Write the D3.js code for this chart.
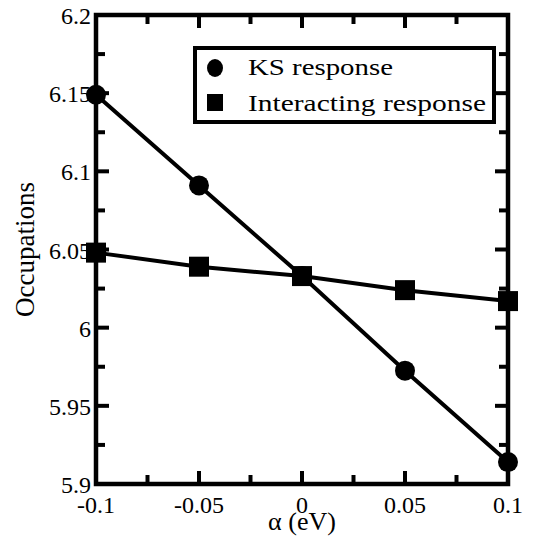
<!DOCTYPE html>
<html>
<head>
<meta charset="utf-8">
<script src="https://cdn.jsdelivr.net/npm/d3@7"></script>
</head>
<body style="margin:0;background:#fff">
<div id="chart"></div>
<script>
// values
const alphas = [-0.1, -0.05, 0, 0.05, 0.1];
const ksResponse = [6.149, 6.091, 6.033, 5.9725, 5.914];
const interactingResponse = [6.048, 6.039, 6.033, 6.024, 6.017];
const xTicks = [-0.1, -0.05, 0, 0.05, 0.1];
const xTickLabels = ["-0.1", "-0.05", "0", "0.05", "0.1"];
const yTicks = [5.9, 5.95, 6, 6.05, 6.1, 6.15, 6.2];
const yTickLabels = ["5.9", "5.95", "6", "6.05", "6.1", "6.15", "6.2"];
const xMinor = [-0.075, -0.025, 0.025, 0.075];
const yMinor = [5.925, 5.975, 6.025, 6.075, 6.125, 6.175];
const seriesNames = ["KS response", "Interacting response"];

const serif = "'Liberation Serif', monospace";

let margin = { top: 15, right: 25, bottom: 59, left: 96 },
    width = 533 - margin.left - margin.right,
    height = 543 - margin.top - margin.bottom;

let svg = d3.select("#chart")
    .append("svg")
    .attr("width", 533)
    .attr("height", 543)
    .append("g")
    .attr("transform", "translate(" + margin.left + "," + margin.top + ")");

let x = d3.scaleLinear().domain([-0.1, 0.1]).range([0, width]);
let y = d3.scaleLinear().domain([5.9, 6.2]).range([height, 0]);

// ticks on all four sides, pointing inward
const major = 13, minor = 9;
let ticks = svg.append("g").attr("stroke", "#000").attr("stroke-width", 4);
xTicks.concat(xMinor).forEach(v => {
    let len = xTicks.includes(v) ? major : minor;
    ticks.append("line").attr("x1", x(v)).attr("x2", x(v)).attr("y1", height).attr("y2", height - len);
    ticks.append("line").attr("x1", x(v)).attr("x2", x(v)).attr("y1", 0).attr("y2", len);
});
yTicks.concat(yMinor).forEach(v => {
    let len = yTicks.includes(v) ? major : minor;
    ticks.append("line").attr("y1", y(v)).attr("y2", y(v)).attr("x1", 0).attr("x2", len);
    ticks.append("line").attr("y1", y(v)).attr("y2", y(v)).attr("x1", width).attr("x2", width - len);
});

// frame
svg.append("rect")
    .attr("width", width)
    .attr("height", height)
    .attr("fill", "none")
    .attr("stroke", "#000")
    .attr("stroke-width", 4.5);

// tick labels
svg.selectAll(".xlab")
    .data(xTicks)
    .enter()
    .append("text")
    .attr("x", d => x(d))
    .attr("y", height + 29)
    .attr("text-anchor", "middle")
    .attr("font-family", serif)
    .attr("font-size", 24)
    .text((d, i) => xTickLabels[i]);

svg.selectAll(".ylab")
    .data(yTicks)
    .enter()
    .append("text")
    .attr("x", -5)
    .attr("y", d => y(d) + 9)
    .attr("text-anchor", "end")
    .attr("font-family", serif)
    .attr("font-size", 24)
    .text((d, i) => yTickLabels[i]);

// axis titles
svg.append("text")
    .attr("x", width / 2)
    .attr("y", height + 46)
    .attr("text-anchor", "middle")
    .attr("font-family", serif)
    .attr("font-size", 26)
    .text("α (eV)");

svg.append("text")
    .attr("transform", "rotate(-90)")
    .attr("x", -height / 2)
    .attr("y", -62)
    .attr("text-anchor", "middle")
    .attr("font-family", serif)
    .attr("font-size", 27)
    .text("Occupations");

// lines
let line = d3.line().x(d => x(d[0])).y(d => y(d[1]));
let ksData = alphas.map((a, i) => [a, ksResponse[i]]);
let intData = alphas.map((a, i) => [a, interactingResponse[i]]);

svg.append("path").datum(intData).attr("d", line)
    .attr("fill", "none").attr("stroke", "#000").attr("stroke-width", 4);
svg.append("path").datum(ksData).attr("d", line)
    .attr("fill", "none").attr("stroke", "#000").attr("stroke-width", 4);

// markers
svg.selectAll(".ks")
    .data(ksData)
    .enter()
    .append("circle")
    .attr("cx", d => x(d[0]))
    .attr("cy", d => y(d[1]))
    .attr("r", 10)
    .attr("fill", "#000");

svg.selectAll(".int")
    .data(intData)
    .enter()
    .append("rect")
    .attr("x", d => x(d[0]) - 10)
    .attr("y", d => y(d[1]) - 10)
    .attr("width", 20)
    .attr("height", 20)
    .attr("fill", "#000");

// legend
let legend = svg.append("g").attr("transform", "translate(" + (195 - margin.left) + "," + (48 - margin.top) + ")");
legend.append("rect")
    .attr("width", 299)
    .attr("height", 74)
    .attr("fill", "#fff")
    .attr("stroke", "#000")
    .attr("stroke-width", 4);
legend.append("ellipse").attr("cx", 20).attr("cy", 20).attr("rx", 8).attr("ry", 9).attr("fill", "#000");
legend.append("rect").attr("x", 12).attr("y", 46).attr("width", 16).attr("height", 17).attr("fill", "#000");
legend.append("text").attr("x", 53).attr("y", 27)
    .attr("font-family", serif).attr("font-size", 23)
    .attr("textLength", 145).attr("lengthAdjust", "spacingAndGlyphs")
    .text(seriesNames[0]);
legend.append("text").attr("x", 53).attr("y", 63)
    .attr("font-family", serif).attr("font-size", 23)
    .attr("textLength", 238).attr("lengthAdjust", "spacingAndGlyphs")
    .text(seriesNames[1]);
</script>
</body>
</html>
